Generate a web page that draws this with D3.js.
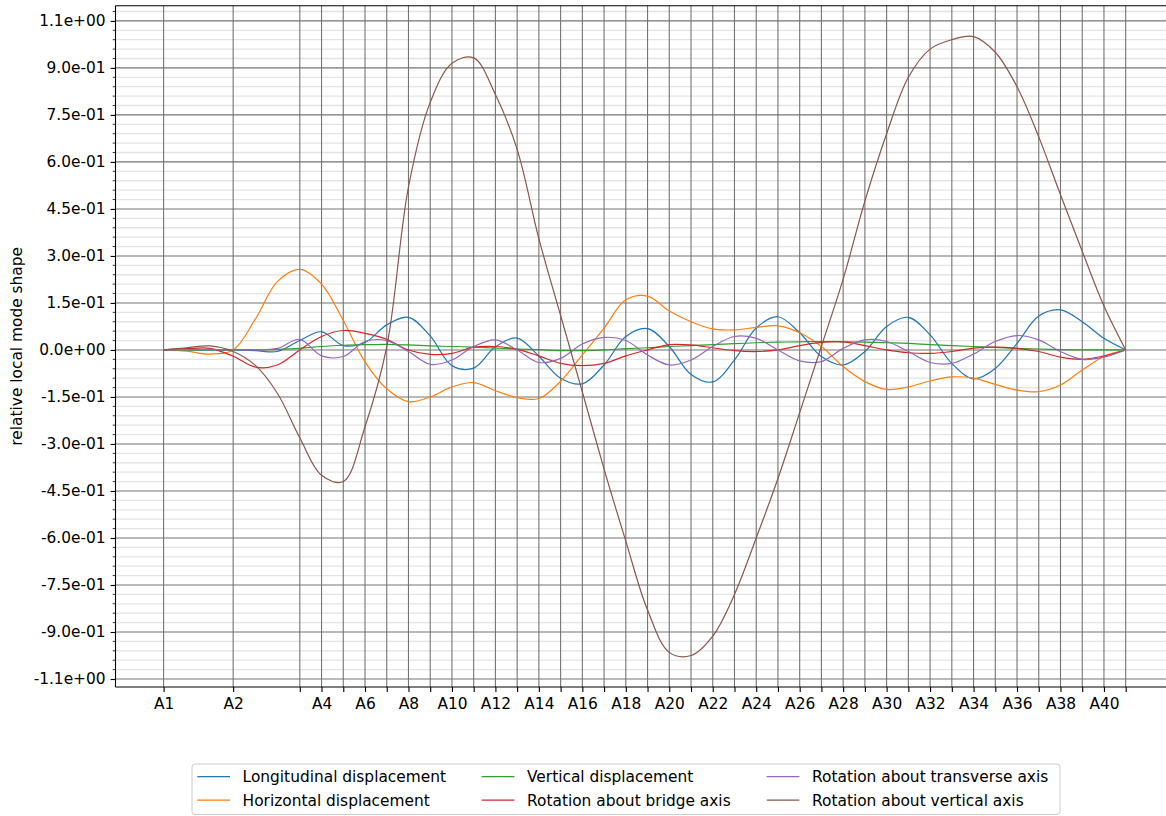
<!DOCTYPE html>
<html>
<head>
<meta charset="utf-8">
<script src="https://cdn.jsdelivr.net/npm/d3@7"></script>
<style>
  body { margin: 0; background: #fff; }
  svg text { font-family: "DejaVu Sans", sans-serif; fill: #000; }
</style>
</head>
<body>
<div id="chart"></div>
<script>

// Data
//-----
// station names and their chainage along the bridge (m)
var stationNames = ["A1","A2","A3","A4","A5","A6","A7","A8","A9","A10",
  "A11","A12","A13","A14","A15","A16","A17","A18","A19","A20",
  "A21","A22","A23","A24","A25","A26","A27","A28","A29","A30",
  "A31","A32","A33","A34","A35","A36","A37","A38","A39","A40","A41"];
var stationChainage = [0, 96, 188, 218, 248, 278, 308, 338, 368, 398,
  428, 458, 488, 518, 548, 578, 608, 638, 668, 698,
  728, 758, 788, 818, 848, 878, 908, 938, 968, 998,
  1028, 1058, 1088, 1118, 1148, 1178, 1208, 1238, 1268, 1298, 1328];
var labelledStations = ["A1","A2","A4","A6","A8","A10","A12","A14","A16","A18","A20",
  "A22","A24","A26","A28","A30","A32","A34","A36","A38","A40"];

// chainage of the points where the mode shape was read
var sampleChainage = [0, 32, 64, 96, 127, 157, 188, 218, 248, 278, 308, 338, 368, 398,
  428, 458, 488, 518, 548, 578, 608, 638, 668, 698,
  728, 758, 788, 818, 848, 878, 908, 938, 968, 998,
  1028, 1058, 1088, 1118, 1148, 1178, 1208, 1238, 1268, 1298, 1328];

var longitudinal = [0, 0, 0, 0, -0.002, -0.005, 0.03, 0.058, 0.014, 0.024, 0.08, 0.104, 0.045, -0.05, -0.058,
  0.01, 0.038, -0.02, -0.09, -0.108, -0.048, 0.043, 0.068, 0.011, -0.078, -0.102, -0.032, 0.07, 0.106,
  0.055, -0.021, -0.048, -0.005, 0.075, 0.104, 0.048, -0.043, -0.092, -0.059, 0.021, 0.108, 0.128, 0.09, 0.037, 0];
var horizontal = [0, -0.004, -0.013, 0, 0.1, 0.218, 0.257, 0.21, 0.094, -0.038, -0.124, -0.165, -0.15, -0.118, -0.104,
  -0.13, -0.152, -0.155, -0.1, -0.016, 0.07, 0.16, 0.172, 0.124, 0.09, 0.067, 0.064, 0.072, 0.077,
  0.055, 0.011, -0.053, -0.101, -0.126, -0.118, -0.099, -0.086, -0.09, -0.11, -0.128, -0.133, -0.112, -0.064, -0.021, 0];
var vertical = [0, 0, 0, 0, 0.001, 0.002, 0.005, 0.011, 0.015, 0.017, 0.018, 0.016, 0.013, 0.011, 0.009,
  0.006, 0.003, 0.001, -0.002, -0.002, 0, 0.004, 0.007, 0.011, 0.014, 0.017, 0.02, 0.023, 0.025,
  0.026, 0.027, 0.026, 0.025, 0.023, 0.021, 0.017, 0.014, 0.011, 0.008, 0.005, 0.003, 0.001, 0, 0, 0];
var rotBridge = [0, 0.004, 0.005, -0.02, -0.055, -0.048, 0, 0.043, 0.062, 0.053, 0.034, 0, -0.014, -0.011, 0.009,
  0.011, 0.002, -0.019, -0.043, -0.05, -0.043, -0.019, 0, 0.017, 0.016, 0.007, -0.002, -0.005, 0,
  0.014, 0.024, 0.026, 0.014, 0, -0.009, -0.011, -0.005, 0.006, 0.009, 0.005, -0.005, -0.023, -0.03, -0.019, 0];
var rotTransverse = [0, 0.001, 0.002, 0, 0, 0.005, 0.034, -0.019, -0.021, 0.027, 0.03, -0.005, -0.046, -0.032, 0.011,
  0.032, 0, -0.04, -0.027, 0.019, 0.04, 0.03, -0.016, -0.048, -0.032, 0.011, 0.043, 0.037, 0,
  -0.035, -0.037, 0.005, 0.032, 0.027, -0.005, -0.04, -0.043, -0.013, 0.027, 0.046, 0.032, -0.005, -0.03, -0.023, 0];
var rotVertical = [0, 0.007, 0.013, -0.005, -0.05, -0.138, -0.28, -0.4, -0.42, -0.245, 0.01, 0.52, 0.79, 0.915, 0.932,
  0.815, 0.64, 0.355, 0.11, -0.134, -0.38, -0.61, -0.83, -0.965, -0.975, -0.913, -0.78, -0.6, -0.41,
  -0.2, 0.012, 0.226, 0.475, 0.69, 0.87, 0.96, 0.99, 1.0, 0.95, 0.84, 0.68, 0.495, 0.315, 0.14, 0];

var seriesNames = ["Longitudinal displacement", "Horizontal displacement", "Vertical displacement",
  "Rotation about bridge axis", "Rotation about transverse axis", "Rotation about vertical axis"];
var seriesValues = [longitudinal, horizontal, vertical, rotBridge, rotTransverse, rotVertical];
var seriesColors = ["#1f77b4", "#ff7f0e", "#2ca02c", "#d62728", "#9467bd", "#8c564b"];

var yTicks = [-1.05, -0.9, -0.75, -0.6, -0.45, -0.3, -0.15, 0, 0.15, 0.3, 0.45, 0.6, 0.75, 0.9, 1.05];

// Sizing parameters
//------------------
var svgWidth = 1166;
var svgHeight = 816;

var plot = { left: 115.5, top: 5.7, right: 1173.8, bottom: 687 };
var fontSize = 15.4;

var svg = d3.select("#chart")
  .append("svg")
  .attr("width", svgWidth)
  .attr("height", svgHeight);

// Scales
//-------
var xScale = d3.scaleLinear()
  .domain([-66.4, 1394.4])
  .range([plot.left, plot.right]);

var yScale = d3.scaleLinear()
  .domain([-1.0755, 1.0985])
  .range([plot.bottom, plot.top]);

// matplotlib style "%.1e" labels
function sciFormat(v) {
  var s = v.toExponential(1);
  return s.replace(/e([+-])(\d)$/, "e$10$2");
}

// minor y values every 0.03
var yMinor = d3.range(-35, 37).map(i => Math.round(i * 3) / 100)
  .filter(v => Math.round(v * 100) % 15 !== 0);

// Grid
//-----
var grid = svg.append("g");

grid.selectAll(".minor-grid")
  .data(yMinor)
  .enter()
  .append("line")
  .attr("x1", plot.left)
  .attr("x2", plot.right)
  .attr("y1", d => yScale(d))
  .attr("y2", d => yScale(d))
  .attr("stroke", "#e4e4e4")
  .attr("stroke-width", 1.3);

grid.selectAll(".ygrid")
  .data(yTicks)
  .enter()
  .append("line")
  .attr("x1", plot.left)
  .attr("x2", plot.right)
  .attr("y1", d => yScale(d))
  .attr("y2", d => yScale(d))
  .attr("stroke", "#747474")
  .attr("stroke-width", 1.1);

grid.selectAll(".xgrid")
  .data(stationChainage)
  .enter()
  .append("line")
  .attr("x1", d => xScale(d))
  .attr("x2", d => xScale(d))
  .attr("y1", plot.top)
  .attr("y2", plot.bottom)
  .attr("stroke", "#747474")
  .attr("stroke-width", 1.1);

// Lines
//------
var lineGroup = svg.append("g");

var line = d3.line()
  .x(d => xScale(d[0]))
  .y(d => yScale(d[1]))
  .curve(d3.curveCatmullRom.alpha(0.5));

seriesValues.forEach(function(values, i) {
  var pts = values.map((v, j) => [sampleChainage[j], v]);
  lineGroup.append("path")
    .datum(pts)
    .attr("d", line)
    .attr("fill", "none")
    .attr("stroke", seriesColors[i])
    .attr("stroke-width", 1.2)
    .attr("stroke-linejoin", "round");
});

// Axes
//-----
var xAxis = d3.axisBottom(xScale)
  .tickValues(stationChainage)
  .tickSize(4.9)
  .tickPadding(4)
  .tickFormat(function(d, i) {
    var name = stationNames[i];
    return labelledStations.indexOf(name) >= 0 ? name : "";
  });

var xAxisG = svg.append("g")
  .attr("transform", `translate(0, ${plot.bottom})`)
  .call(xAxis);
xAxisG.select(".domain").remove();
xAxisG.selectAll("line").attr("stroke", "#000").attr("stroke-width", 1.1);
xAxisG.selectAll("text")
  .attr("font-size", fontSize)
  .attr("font-family", "DejaVu Sans")
  .attr("fill", "#000")
  .attr("y", 11)
  .attr("dy", "0.71em");

var yAxis = d3.axisLeft(yScale)
  .tickValues(yTicks)
  .tickSize(4.9)
  .tickPadding(5)
  .tickFormat(sciFormat);

var yAxisG = svg.append("g")
  .attr("transform", `translate(${plot.left}, 0)`)
  .call(yAxis);
yAxisG.select(".domain").remove();
yAxisG.selectAll("line").attr("stroke", "#000").attr("stroke-width", 1.1);
yAxisG.selectAll("text")
  .attr("font-size", fontSize)
  .attr("font-family", "DejaVu Sans")
  .attr("fill", "#000");

// minor y ticks
yAxisG.selectAll(".minor-tick")
  .data(yMinor)
  .enter()
  .append("line")
  .attr("x1", -2.8)
  .attr("x2", 0)
  .attr("y1", d => yScale(d))
  .attr("y2", d => yScale(d))
  .attr("stroke", "#000")
  .attr("stroke-width", 0.8);

// spines
svg.append("line")
  .attr("x1", plot.left).attr("x2", plot.left)
  .attr("y1", plot.top).attr("y2", plot.bottom)
  .attr("stroke", "#000").attr("stroke-width", 1.1);
svg.append("line")
  .attr("x1", plot.left).attr("x2", plot.right)
  .attr("y1", plot.bottom).attr("y2", plot.bottom)
  .attr("stroke", "#000").attr("stroke-width", 1.1);
svg.append("line")
  .attr("x1", plot.left).attr("x2", plot.right)
  .attr("y1", plot.top).attr("y2", plot.top)
  .attr("stroke", "#000").attr("stroke-width", 1.1);

// y label
svg.append("text")
  .attr("transform", `translate(17, ${(plot.top + plot.bottom) / 2}) rotate(-90)`)
  .attr("text-anchor", "middle")
  .attr("dominant-baseline", "central")
  .attr("font-size", fontSize)
  .text("relative local mode shape");

// Legend
//-------
var legend = svg.append("g");

legend.append("rect")
  .attr("x", 192)
  .attr("y", 764)
  .attr("width", 868)
  .attr("height", 50.5)
  .attr("rx", 3)
  .attr("fill", "#fff")
  .attr("fill-opacity", 0.8)
  .attr("stroke", "#cccccc")
  .attr("stroke-width", 1);

var colX = [197.3, 481.7, 766.7];
var rowY = [776.7, 800.2];

seriesNames.forEach(function(name, i) {
  var cx = colX[Math.floor(i / 2)];
  var cy = rowY[i % 2];
  legend.append("line")
    .attr("x1", cx)
    .attr("x2", cx + 32.7)
    .attr("y1", cy)
    .attr("y2", cy)
    .attr("stroke", seriesColors[i])
    .attr("stroke-width", 1.2);
  legend.append("text")
    .attr("x", cx + 45.3)
    .attr("y", cy)
    .attr("dy", "0.36em")
    .attr("font-size", fontSize)
    .text(name);
});

</script>
</body>
</html>
